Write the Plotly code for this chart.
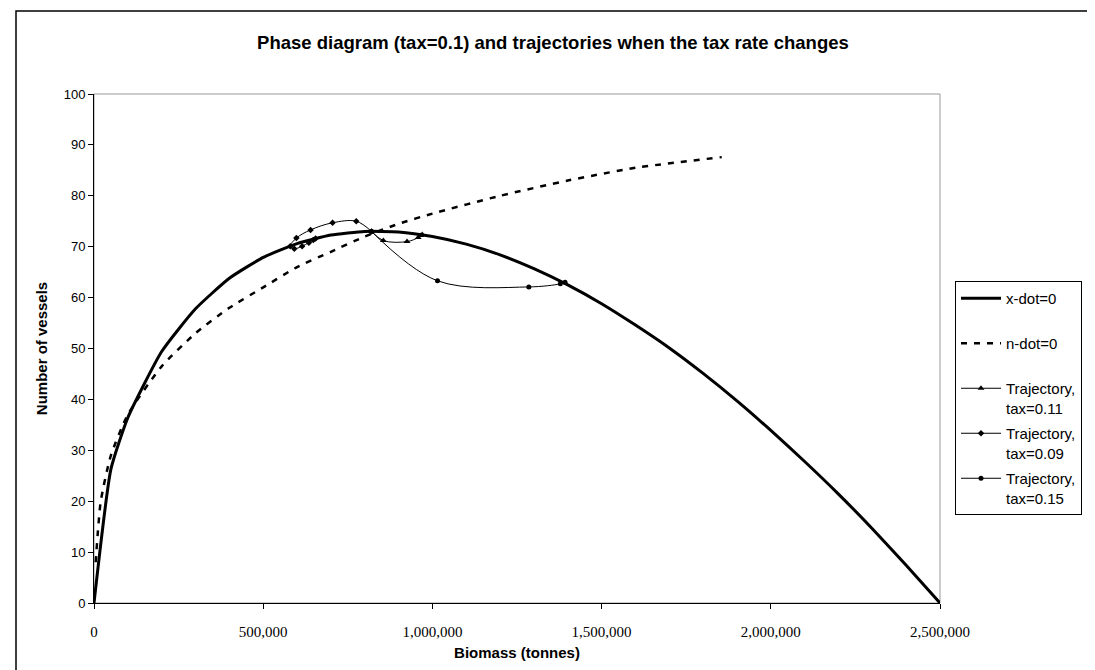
import plotly.graph_objects as go

# x-dot = 0 isocline (biomass, vessels)
xdot_x = [0, 50000, 100000, 200000, 300000, 400000, 500000, 600000, 700000,
          800000, 900000, 1000000, 1100000, 1200000, 1300000, 1400000, 1500000,
          1600000, 1700000, 1800000, 1900000, 2000000, 2100000, 2200000, 2300000,
          2400000, 2500000]
xdot_n = [0, 26.3, 36.4, 49.4, 57.8, 63.8, 67.9, 70.6, 72.3, 73.0, 72.9, 72.0,
          70.5, 68.4, 65.7, 62.5, 58.8, 54.6, 50.1, 45.1, 39.7, 33.9, 27.8, 21.4, 14.6,
          7.4, 0]

# n-dot = 0 isocline
ndot_x = [5000, 20000, 50000, 100000, 200000, 300000, 400000, 500000, 600000,
          700000, 800000, 900000, 1000000, 1200000, 1400000, 1600000, 1855000]
ndot_n = [8, 20, 29, 37, 46.5, 53, 58, 62, 66, 69, 72, 74.5, 76.5, 80, 83, 85.5, 87.6]

# Trajectories
t011_x = [820000, 855000, 925000, 958000, 966000, 970000]
t011_n = [73, 71.2, 71.0, 71.8, 72.2, 72.4]

t009_x = [820000, 775000, 705000, 640000, 598000, 580000, 592000, 615000, 635000, 648000, 655000]
t009_n = [73, 75, 74.7, 73.3, 71.7, 70.1, 69.6, 70.1, 70.8, 71.3, 71.6]

t015_x = [820000, 1015000, 1285000, 1378000, 1392000]
t015_n = [73, 63.3, 62.1, 62.7, 63.0]

x_ticks = [0, 500000, 1000000, 1500000, 2000000, 2500000]
x_tick_labels = ["0", "500,000", "1,000,000", "1,500,000", "2,000,000", "2,500,000"]
y_ticks = list(range(0, 101, 10))

NB = "<br>\u00a0"  # keeps every legend entry two lines tall, as in the original

fig = go.Figure()
fig.add_trace(go.Scatter(x=xdot_x, y=xdot_n, mode="lines", name="x-dot=0" + NB,
                         line=dict(color="black", width=3, shape="spline", smoothing=0.5),
                         legendgroup="a"))
fig.add_trace(go.Scatter(x=ndot_x, y=ndot_n, mode="lines", name="n-dot=0" + NB,
                         line=dict(color="black", width=2.5, dash="6px,7px", shape="spline", smoothing=0.6),
                         legendgroup="b"))
fig.add_trace(go.Scatter(x=t011_x, y=t011_n, mode="lines+markers", name="Trajectory,<br>tax=0.11",
                         line=dict(color="black", width=1, shape="spline"),
                         marker=dict(symbol="triangle-up", size=6, color="black"),
                         legendgroup="c"))
fig.add_trace(go.Scatter(x=t009_x, y=t009_n, mode="lines+markers", name="Trajectory,<br>tax=0.09",
                         line=dict(color="black", width=1, shape="spline"),
                         marker=dict(symbol="diamond", size=5, color="black"),
                         legendgroup="d"))
fig.add_trace(go.Scatter(x=t015_x, y=t015_n, mode="lines+markers", name="Trajectory,<br>tax=0.15",
                         line=dict(color="black", width=1, shape="spline"),
                         marker=dict(symbol="circle", size=5, color="black"),
                         legendgroup="e"))

L, R, T, B = 86, 163, 86, 75
W, H = 1095, 670
pw, ph = W - L - R, H - T - B

def px_x(p):
    return (p - L) / pw

def px_y(p):
    return (H - B - p) / ph

fig.update_layout(
    width=W, height=H,
    margin=dict(l=L, r=R, t=T, b=B),
    paper_bgcolor="white", plot_bgcolor="white",
    font=dict(family="Liberation Sans, Arial", color="black", size=12),
    title=dict(text="<b>Phase diagram (tax=0.1) and trajectories when the tax rate changes</b>",
               x=px_x(507), xanchor="center", y=1 - 35 / H, yanchor="middle",
               font=dict(size=18.5)),
    showlegend=True,
    legend=dict(x=px_x(947), xanchor="left", y=px_y(507), yanchor="bottom",
                bordercolor="black", borderwidth=1, bgcolor="white", valign="top",
                font=dict(size=15), tracegroupgap=3, itemwidth=40),
    xaxis=dict(range=[0, 2500000], tickvals=x_ticks, ticktext=x_tick_labels,
               showgrid=False, zeroline=False, showline=True, linecolor="black", linewidth=1,
               ticks="outside", ticklen=5, tickcolor="black", ticklabelstandoff=10,
               tickfont=dict(family="Liberation Serif, Times New Roman", size=15),
               title=dict(text="<b>Biomass (tonnes)</b>", font=dict(size=15), standoff=8)),
    yaxis=dict(range=[0, 100], tickvals=y_ticks,
               showgrid=False, zeroline=False, showline=True, linecolor="black", linewidth=1,
               ticks="outside", ticklen=5, tickcolor="black",
               tickfont=dict(size=13),
               title=dict(text="<b>Number of vessels</b>", font=dict(size=15), standoff=12)),
    shapes=[
        dict(type="rect", xref="paper", yref="paper", x0=0, x1=1, y0=0, y1=1,
             line=dict(color="#999999", width=1), layer="below"),
        dict(type="rect", xref="paper", yref="paper", x0=px_x(8), x1=px_x(1085),
             y0=px_y(667), y1=px_y(3), line=dict(color="black", width=1.5)),
    ],
)

fig.write_html("out.html")
